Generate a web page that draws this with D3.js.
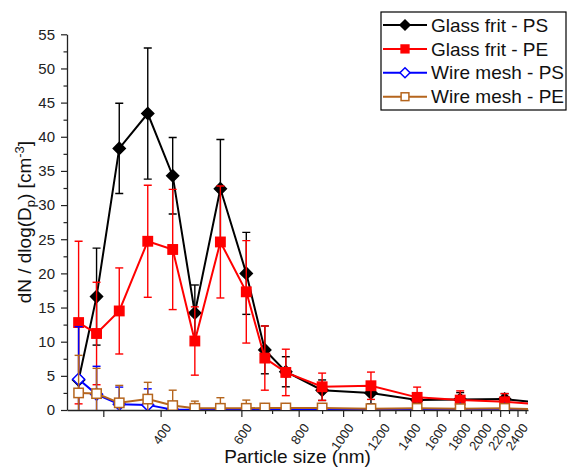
<!DOCTYPE html>
<html><head><meta charset="utf-8">
<script src="https://cdn.jsdelivr.net/npm/d3@7"></script>
<style>
body{margin:0;background:#fff;}
svg text{font-family:"Liberation Sans",Arial,sans-serif;}
</style></head>
<body>
<svg id="c" width="568" height="471"></svg>
<script>
// ---- data ----
const sizes = [265, 290, 325, 375, 425, 475, 540, 615, 675, 750, 900, 1150, 1450, 1800, 2250, 2750];
const glassPS    = [4.4, 16.6, 38.3, 43.4, 34.3, 14.2, 32.4, 20.0, 8.8, 5.6, 2.9, 2.5, 1.45, 1.55, 1.6, 1.0];
const glassPSErr = [8.9, 7.1, 6.6, 9.6, 5.6, 4.1, 7.2, 6.0, 3.5, 2.2, 1.5, 1.6, 0.6, 1.0, 0.8, 0.5];
const glassPE    = [12.8, 11.2, 14.5, 24.7, 23.5, 10.1, 24.6, 17.3, 7.6, 5.5, 3.4, 3.55, 1.85, 1.45, 1.2, 0.75];
const glassPEErr = [11.9, 7.5, 6.3, 8.2, 8.8, 5.0, 8.2, 7.5, 4.7, 3.4, 2.0, 2.0, 1.5, 1.35, 1.2, 0.6];
const meshPS     = [4.5, 2.3, 0.85, 0.75, 0.05, 0.02, 0.02, 0.02, 0.02, 0.02, 0.02, 0.03, 0.05, 0.1, 0.1, 0.05];
const meshPSErr  = [7.7, 4.1, 2.5, 2.35, 0.1, 0.05, 0.05, 0.05, 0.05, 0.05, 0.2, 0.3, 0.4, 0.5, 0.5, 0.2];
const meshPE     = [2.5, 2.4, 1.05, 1.6, 0.65, 0.25, 0.25, 0.25, 0.3, 0.3, 0.3, 0.2, 0.25, 0.2, 0.25, 0.1];
const meshPEErr  = [5.5, 3.7, 2.55, 2.45, 2.25, 1.05, 1.55, 1.2, 0.5, 0.5, 0.3, 0.3, 0.4, 0.3, 0.3, 0.2];
const seriesNames = ["Glass frit - PS", "Glass frit - PE", "Wire mesh - PS", "Wire mesh - PE"];
const yTicks = [0, 5, 10, 15, 20, 25, 30, 35, 40, 45, 50, 55];
const xMajorTicks = [300, 400, 600, 800, 1000, 1200, 1400, 1600, 1800, 2000, 2200, 2400];
const xMinorTicks = [500, 700, 900, 1100, 1300, 1500, 1700, 1900, 2100, 2300, 2500];
const xLabelTicks = [400, 600, 800, 1000, 1200, 1400, 1600, 1800, 2000, 2200, 2400];

const series = [
  {name: seriesNames[0], v: glassPS, e: glassPSErr, color: "#000000", shape: "diamond", fill: "#000000"},
  {name: seriesNames[1], v: glassPE, e: glassPEErr, color: "#ff0000", shape: "square", fill: "#ff0000"},
  {name: seriesNames[2], v: meshPS, e: meshPSErr, color: "#0000ff", shape: "diamond", fill: "#ffffff"},
  {name: seriesNames[3], v: meshPE, e: meshPEErr, color: "#b5651d", shape: "square", fill: "#ffffff"}
];

const svg = d3.select("#c");
const L = 67, R = 528, T = 34.3, B = 410;
const x = d3.scaleLog().domain([250, 2530]).range([L, R]);
const y = d3.scaleLinear().domain([0, 55]).range([B, T]);

svg.append("defs").append("clipPath").attr("id", "clip")
  .append("rect").attr("x", L).attr("y", T - 5).attr("width", R - L).attr("height", B - T + 5);

// axes
const yAxis = svg.append("g").attr("transform", `translate(${L},0)`)
  .call(d3.axisLeft(y).tickValues(yTicks).tickSize(6).tickPadding(6).tickSizeOuter(0));
yAxis.selectAll("text").attr("font-size", 15).attr("fill", "#222");
svg.append("g").attr("transform", `translate(${L},0)`)
  .call(d3.axisLeft(y).tickValues(d3.range(2.5, 55, 5)).tickSize(3.5).tickFormat("").tickSizeOuter(0))
  .select(".domain").remove();

const xAxis = svg.append("g").attr("transform", `translate(0,${B})`)
  .call(d3.axisBottom(x).tickValues(xMajorTicks).tickSize(7)
    .tickFormat(d => xLabelTicks.includes(d) ? String(d) : "").tickSizeOuter(0));
xAxis.selectAll("text").attr("font-size", 13).attr("fill", "#222")
  .attr("text-anchor", "end").attr("x", 0).attr("y", 0).attr("dy", "0.35em")
  .attr("transform", "translate(7,15) rotate(-55)");
svg.append("g").attr("transform", `translate(0,${B})`)
  .call(d3.axisBottom(x).tickValues(xMinorTicks).tickSize(4).tickFormat("").tickSizeOuter(0))
  .select(".domain").remove();
svg.selectAll(".domain").attr("stroke", "#222").attr("stroke-width", 1.3);
svg.selectAll(".tick line").attr("stroke", "#222").attr("stroke-width", 1.2);

// titles
svg.append("text").attr("x", (L + R) / 2).attr("y", 463).attr("text-anchor", "middle")
  .attr("font-size", 19).attr("fill", "#111").text("Particle size (nm)");
const yt = svg.append("text").attr("transform", `translate(31,${(T + B) / 2}) rotate(-90)`)
  .attr("text-anchor", "middle").attr("font-size", 19).attr("fill", "#111");
yt.append("tspan").text("dN / dlog(D");
yt.append("tspan").attr("font-size", 13).attr("dy", 4).text("p");
yt.append("tspan").attr("dy", -4).text(") [cm");
yt.append("tspan").attr("font-size", 13).attr("dy", -7).text("-3");
yt.append("tspan").attr("dy", 7).text("]");

// plot
const plot = svg.append("g").attr("clip-path", "url(#clip)");
const line = d3.line().x((d, i) => x(sizes[i])).y(d => y(d));

function marker(g, shape, color, fill, s) {
  if (shape === "diamond") {
    g.append("path").attr("d", `M0,${-s}L${s},0L0,${s}L${-s},0Z`)
      .attr("fill", fill).attr("stroke", color).attr("stroke-width", 1.5);
  } else {
    const h = s * 0.78;
    g.append("rect").attr("x", -h).attr("y", -h).attr("width", 2 * h).attr("height", 2 * h)
      .attr("fill", fill).attr("stroke", color).attr("stroke-width", 1.5);
  }
}

series.forEach(s => {
  const g = plot.append("g");
  s.v.forEach((v, i) => {
    const cx = x(sizes[i]);
    const top = y(v + s.e[i]), bot = y(v - s.e[i]);
    g.append("line").attr("x1", cx).attr("x2", cx).attr("y1", top).attr("y2", bot)
      .attr("stroke", s.color).attr("stroke-width", 1.4);
    [top, bot].forEach(yy => g.append("line").attr("x1", cx - 4).attr("x2", cx + 4)
      .attr("y1", yy).attr("y2", yy).attr("stroke", s.color).attr("stroke-width", 1.4));
  });
  g.append("path").datum(s.v).attr("d", line).attr("fill", "none")
    .attr("stroke", s.color).attr("stroke-width", 2);
  s.v.forEach((v, i) => {
    const m = g.append("g").attr("transform", `translate(${x(sizes[i])},${y(v)})`);
    marker(m, s.shape, s.color, s.fill, 6);
  });
});

// legend
const lg = svg.append("g");
lg.append("rect").attr("x", 381).attr("y", 12).attr("width", 185).attr("height", 98)
  .attr("fill", "#fff").attr("stroke", "#000").attr("stroke-width", 1.2);
series.forEach((s, i) => {
  const yy = 25 + i * 23.9;
  lg.append("line").attr("x1", 383).attr("x2", 427).attr("y1", yy).attr("y2", yy)
    .attr("stroke", s.color).attr("stroke-width", 2);
  const m = lg.append("g").attr("transform", `translate(405,${yy})`);
  marker(m, s.shape, s.color, s.fill, 5);
  lg.append("text").attr("x", 431).attr("y", yy).attr("dy", "0.35em")
    .attr("font-size", 19).attr("fill", "#111").text(s.name);
});
</script>
</body></html>
